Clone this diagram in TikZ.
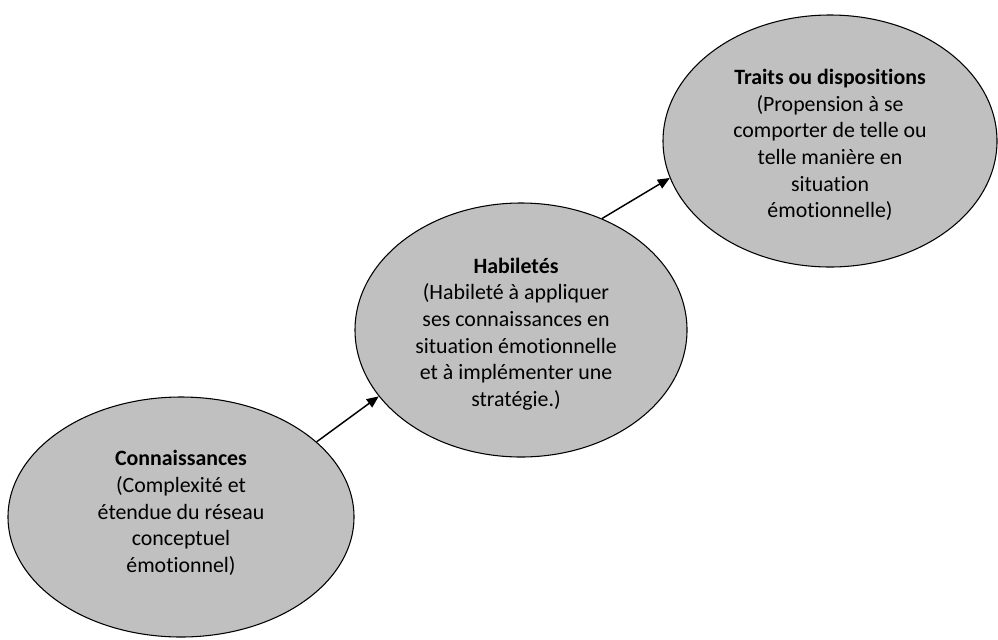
\documentclass[tikz,border=0pt]{standalone}
\usepackage{fontspec}
\setmainfont{Carlito}[Ligatures=NoCommon]
\usetikzlibrary{shapes.geometric,arrows.meta}
\definecolor{bulle}{RGB}{192,192,192}
\tikzset{
  bulle/.style={ellipse, draw=black, line width=0.8pt, fill=bulle, inner sep=0pt},
  texte/.style={align=center, inner sep=0pt, font=\fontsize{16.4}{20}\selectfont},
  fleche/.style={-{Triangle[length=9pt,width=7.5pt]}, line width=1.1pt}
}
\begin{document}
\begin{tikzpicture}[x=0.75pt,y=-0.75pt]
\useasboundingbox (0,0) rectangle (998,639);
\node[bulle, minimum width=259.5pt, minimum height=180pt] (conn) at (181,517) {};
\node[bulle, minimum width=249pt, minimum height=190.5pt] (hab) at (521,330) {};
\node[bulle, minimum width=250.5pt, minimum height=189pt] (trait) at (830,141) {};
\node[texte] (conn-t) at (181,513)
  {\textbf{Connaissances}\\(Complexité et\\étendue du réseau\\conceptuel\\émotionnel)};
\node[texte] (hab-t) at (516,334)
  {\textbf{Habiletés}\\(Habileté à appliquer\\ses connaissances en\\situation émotionnelle\\et à implémenter une\\stratégie.)};
\node[texte] (trait-t) at (830,145)
  {\textbf{Traits ou dispositions}\\(Propension à se\\comporter de telle ou\\telle manière en\\situation\\émotionnelle)};
\draw[fleche] (conn.29) -- (hab.205);
\draw[fleche] (hab.54) -- (trait.193);
\end{tikzpicture}
\end{document}
